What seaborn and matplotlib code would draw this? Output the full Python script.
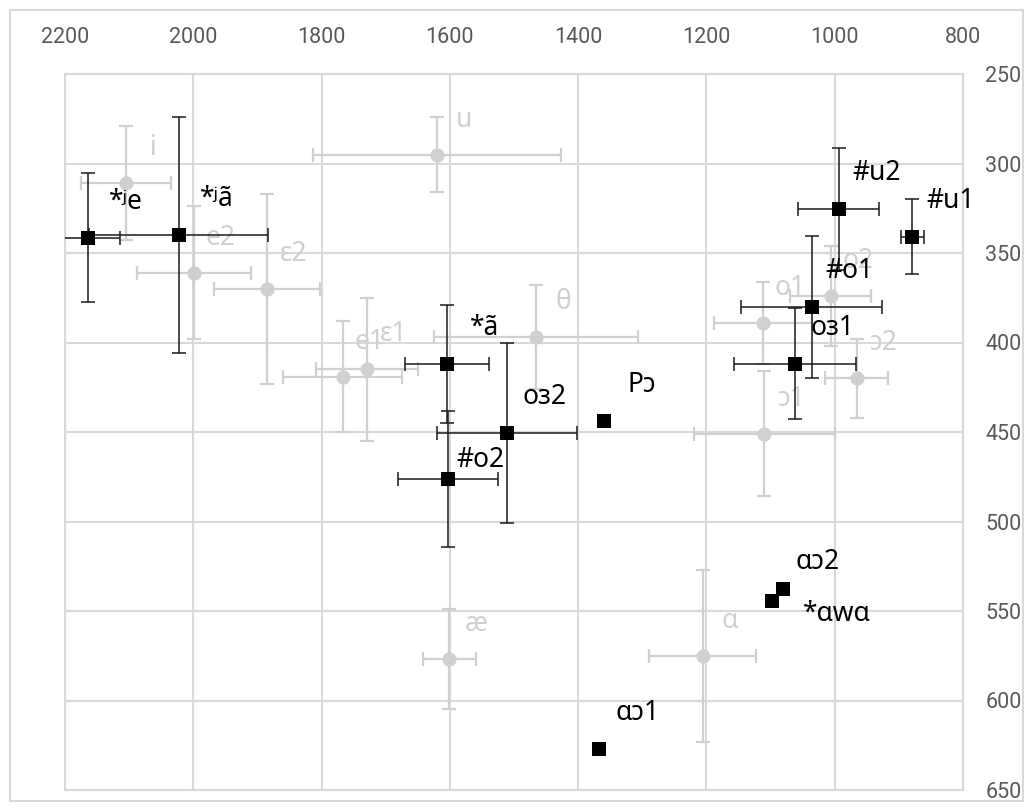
import matplotlib
matplotlib.use("Agg")
import matplotlib.pyplot as plt
import matplotlib.patches as patches
from matplotlib import font_manager
import seaborn as sns
import pandas as pd

# ---- data: reference vowels (gray) ----
ref_labels = ["i", "e2", "ε2", "e1", "ε1", "u", "θ", "æ", "ɑ", "ɔ1", "o1", "o2", "ɔ2"]
ref_f2 = [2105, 1999, 1885, 1767, 1729, 1620, 1465, 1601, 1206, 1110, 1112, 1006, 966]
ref_f1 = [311, 361, 370, 419, 415, 295, 397, 577, 575, 451, 389, 374, 420]
ref_f2_err = [70, 89, 83, 93, 80, 194, 159, 41, 84, 110, 76, 63, 49]
ref_f1_err = [32, 37, 53, 31, 40, 21, 29, 28, 48, 35, 23, 28, 22]

# ---- data: target vowels (black) ----
tgt_labels = ["*ʲe", "*ʲã", "*ã", "#o2", "oɜ2", "Pɔ", "#u2", "#u1", "#o1", "oɜ1", "ɑɔ2", "*ɑwɑ", "ɑɔ1"]
tgt_f2 = [2164, 2023, 1605, 1603, 1511, 1360, 994, 879, 1036, 1062, 1080, 1098, 1367]
tgt_f1 = [341.5, 340, 412, 476, 450.5, 443.6, 325.5, 341, 380.4, 412, 537.6, 544.5, 627]
tgt_f2_err = [49, 140, 65.5, 77.5, 109, 0, 63, 18, 110, 95.5, 0, 0, 0]
tgt_f1_err = [36, 66, 33, 38, 50.5, 0, 34, 21, 39.7, 31, 0, 0, 0]

x_ticks = [2200, 2000, 1800, 1600, 1400, 1200, 1000, 800]
y_ticks = [250, 300, 350, 400, 450, 500, 550, 600, 650]

# label offsets (pixels) - styling only
ref_offset = (27, -35)
tgt_offset_default = (38, -36)
tgt_offset_special = {"#o2": (33, -19), "ɑɔ2": (34, -27), "*ɑwɑ": (65, 13)}

ref_df = pd.DataFrame({"label": ref_labels, "F2": ref_f2, "F1": ref_f1})
tgt_df = pd.DataFrame({"label": tgt_labels, "F2": tgt_f2, "F1": tgt_f1})

sns.set_theme(style="white")
installed = {f.name for f in font_manager.fontManager.ttflist}
tick_font = "Roboto" if "Roboto" in installed else "DejaVu Sans"
label_fonts = ["Noto Sans", "DejaVu Sans"]
plt.rcParams["font.family"] = label_fonts

DPI = 100
fig = plt.figure(figsize=(10.33, 8.11), dpi=DPI)
W, H = 1033, 811
left, right, top, bottom = 65, 963, 74, 790
ax = fig.add_axes([left / W, 1 - bottom / H, (right - left) / W, (bottom - top) / H])

GRID = "#D9D9D9"
GRAY = "#D0D0D0"

# outer chart border
fig.patches.append(patches.Rectangle((10 / W, 1 - 801 / H), (1023 - 10) / W, (801 - 10) / H,
                                     transform=fig.transFigure, fill=False,
                                     edgecolor=GRID, linewidth=1.5))

# gray reference error bars and points
ax.errorbar(ref_f2, ref_f1, xerr=ref_f2_err, yerr=ref_f1_err, fmt="none",
            ecolor=GRAY, elinewidth=1.6, capsize=5, capthick=1.6, zorder=2)
sns.scatterplot(data=ref_df, x="F2", y="F1", ax=ax, color=GRAY, marker="o",
                s=105, edgecolor=GRAY, linewidth=0, zorder=3, legend=False)

# black target error bars and points
ax.errorbar(tgt_f2, tgt_f1, xerr=tgt_f2_err, yerr=tgt_f1_err, fmt="none",
            ecolor="#1a1a1a", elinewidth=1.1, capsize=5, capthick=1.1, zorder=4)
sns.scatterplot(data=tgt_df, x="F2", y="F1", ax=ax, color="black", marker="s",
                s=110, edgecolor="black", linewidth=0, zorder=5, legend=False)

px2pt = 72.0 / DPI
for lab, x, y in zip(ref_labels, ref_f2, ref_f1):
    dx, dy = ref_offset
    ax.annotate(lab, (x, y), xytext=(dx * px2pt, -dy * px2pt), textcoords="offset points",
                ha="center", va="center", fontsize=19, color=GRAY, family=label_fonts, zorder=3)
for lab, x, y in zip(tgt_labels, tgt_f2, tgt_f1):
    dx, dy = tgt_offset_special.get(lab, tgt_offset_default)
    ax.annotate(lab, (x, y), xytext=(dx * px2pt, -dy * px2pt), textcoords="offset points",
                ha="center", va="center", fontsize=19, color="black", family=label_fonts, zorder=6)

ax.set_xlim(2200, 800)
ax.set_ylim(650, 250)
ax.set_xticks(x_ticks)
ax.set_yticks(y_ticks)
ax.xaxis.tick_top()
ax.yaxis.tick_right()
ax.tick_params(axis="both", length=0, labelcolor="#595959", labelsize=15.5)
ax.tick_params(axis="x", pad=19)
ax.tick_params(axis="y", pad=16)
for t in ax.get_xticklabels() + ax.get_yticklabels():
    t.set_fontfamily(tick_font)
ax.grid(True, color=GRID, linewidth=1.5)
ax.set_axisbelow(True)
for sp in ax.spines.values():
    sp.set_color(GRID)
    sp.set_linewidth(1.5)
ax.set_xlabel("")
ax.set_ylabel("")

fig.savefig("out.png", dpi=DPI)
